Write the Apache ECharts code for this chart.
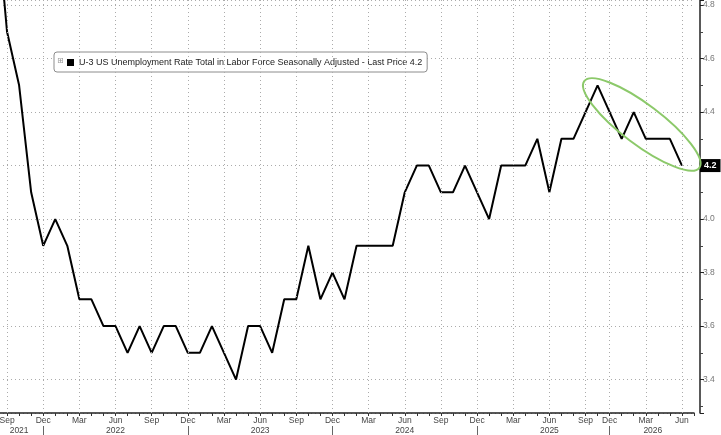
<!DOCTYPE html>
<html>
<head>
<meta charset="utf-8">
<script src="https://cdn.jsdelivr.net/npm/echarts@6/dist/echarts.min.js"></script>
<style>
  html, body { margin: 0; padding: 0; background: #fff; overflow: hidden; width: 721px; height: 435px; }
  #chart { width: 726px; height: 435px; margin-left: -5px; }
</style>
</head>
<body>
<div id="chart"></div>
<script>
// ---- data ----
const seriesName = 'U-3 US Unemployment Rate Total in Labor Force Seasonally Adjusted - Last Price 4.2';
const months = [
  '2021-08','2021-09','2021-10','2021-11','2021-12',
  '2022-01','2022-02','2022-03','2022-04','2022-05','2022-06','2022-07','2022-08','2022-09','2022-10','2022-11','2022-12',
  '2023-01','2023-02','2023-03','2023-04','2023-05','2023-06','2023-07','2023-08','2023-09','2023-10','2023-11','2023-12',
  '2024-01','2024-02','2024-03','2024-04','2024-05','2024-06','2024-07','2024-08','2024-09','2024-10','2024-11','2024-12',
  '2025-01','2025-02','2025-03','2025-04','2025-05','2025-06','2025-07','2025-08','2025-09','2025-11','2025-12',
  '2026-01','2026-02','2026-03','2026-04','2026-05','2026-06','2026-07'
];
const rate = [
  5.2, 4.7, 4.5, 4.1, 3.9,
  4.0, 3.9, 3.7, 3.7, 3.6, 3.6, 3.5, 3.6, 3.5, 3.6, 3.6, 3.5,
  3.5, 3.6, 3.5, 3.4, 3.6, 3.6, 3.5, 3.7, 3.7, 3.9, 3.7, 3.8,
  3.7, 3.9, 3.9, 3.9, 3.9, 4.1, 4.2, 4.2, 4.1, 4.1, 4.2, 4.1,
  4.0, 4.2, 4.2, 4.2, 4.3, 4.1, 4.3, 4.3, 4.4, 4.5, 4.4,
  4.3, 4.4, 4.3, 4.3, 4.3, 4.2, null
];
const lastPrice = 4.2;
const monthAbbr = { '03': 'Mar', '06': 'Jun', '09': 'Sep', '12': 'Dec' };
const yearLabelMonths = ['2021-10', '2022-06', '2023-06', '2024-06', '2025-06', '2026-04'];

const font = 'Liberation Sans, Arial, sans-serif';
const gridDots = { color: '#ababab', type: [1, 3], width: 1 };
const quarterMonths = months.filter(m => !!monthAbbr[m.slice(5)]);

const chart = echarts.init(document.getElementById('chart'), null, { renderer: 'canvas' });

const option = {
  backgroundColor: '#ffffff',
  animation: false,
  grid: { left: 0, right: 27, top: 0, bottom: 22, containLabel: false },
  legend: {
    left: 59, top: 52,
    padding: [6, 5, 5, 13],
    backgroundColor: '#ffffff',
    borderColor: '#8c8c8c',
    borderWidth: 1,
    borderRadius: 3,
    itemWidth: 7, itemHeight: 7,
    icon: 'rect',
    selectedMode: false,
    textStyle: { fontFamily: font, fontSize: 9, color: '#222' },
    data: [seriesName]
  },
  xAxis: [
    {
      type: 'category',
      data: months,
      boundaryGap: false,
      position: 'bottom',
      axisLine: { show: true, lineStyle: { color: '#222', width: 1.5 } },
      axisTick: {
        show: true,
        length: 22,
        interval: (i, v) => v.slice(5) === '12',
        lineStyle: { color: '#666', width: 1 }
      },
      axisLabel: {
        interval: (i, v) => !!monthAbbr[v.slice(5)],
        formatter: v => monthAbbr[v.slice(5)] || '',
        fontFamily: font, fontSize: 8.5, color: '#444',
        margin: 3,
        backgroundColor: '#ffffff',
        padding: [0, 1, 1, 1]
      },
      splitLine: { show: false }
    },
    {
      type: 'category',
      data: months,
      boundaryGap: false,
      position: 'bottom',
      offset: 0,
      axisLine: { show: false },
      axisTick: { show: true, length: 3, interval: 0, lineStyle: { color: '#333', width: 1 } },
      axisLabel: {
        interval: (i, v) => yearLabelMonths.indexOf(v) >= 0,
        formatter: v => v.slice(0, 4) === '2026' ? '{s|' + v.slice(0, 4) + '}' : v.slice(0, 4),
        rich: { s: { fontFamily: font, fontSize: 8.5, color: '#444', padding: [0, 10, 0, 0] } },
        fontFamily: font, fontSize: 8.5, color: '#444',
        margin: 13
      },
      splitLine: { show: false }
    }
  ],
  yAxis: {
    type: 'value',
    position: 'right',
    offset: 6,
    min: 3.275,
    max: 4.819,
    splitNumber: 7,
    axisLine: { show: true, lineStyle: { color: '#222', width: 1.5 } },
    axisTick: { show: true, length: 4, lineStyle: { color: '#222' } },
    minorTick: { show: true, splitNumber: 2, length: 3, lineStyle: { color: '#444' } },
    axisLabel: {
      showMinLabel: false, showMaxLabel: false,
      formatter: v => v.toFixed(1),
      fontFamily: font, fontSize: 8.5, color: '#777', margin: 3
    },
    splitLine: { show: true, lineStyle: gridDots }
  },
  series: [
    {
      name: 'quarterGrid',
      type: 'line',
      data: [],
      z: 1,
      silent: true,
      markLine: {
        silent: true,
        symbol: ['none', 'none'],
        label: { show: false },
        lineStyle: gridDots,
        emphasis: { disabled: true },
        data: quarterMonths.map(m => ({ xAxis: m }))
      }
    },
    {
      name: seriesName,
      type: 'line',
      data: rate,
      xAxisIndex: 0,
      z: 3,
      symbol: 'none',
      clip: true,
      lineStyle: { color: '#000', width: 2 },
      itemStyle: { color: '#000' },
      markLine: {
        silent: true,
        symbol: ['none', 'none'],
        lineStyle: { color: 'rgba(0,0,0,0)', width: 0, opacity: 1 },
        emphasis: { disabled: true },
        label: {
          show: true,
          position: 'end',
          distance: 6,
          formatter: () => lastPrice.toFixed(1),
          backgroundColor: '#000',
          color: '#fff',
          opacity: 1,
          fontFamily: font,
          fontSize: 9,
          fontWeight: 'bold',
          padding: [2, 4, 2, 4]
        },
        data: [{ yAxis: lastPrice }]
      }
    }
  ]
};
chart.setOption(option);

// annotation ellipse anchored on the recent peak and the last value
const p1 = chart.convertToPixel({ xAxisIndex: 0, yAxisIndex: 0 }, ['2025-11', 4.5]);
const p2 = chart.convertToPixel({ xAxisIndex: 0, yAxisIndex: 0 }, ['2026-06', 4.2]);
const cx = (p1[0] + p2[0]) / 2 + 2;
const cy = (p1[1] + p2[1]) / 2 - 1;
chart.setOption({
  graphic: [
    {
      type: 'ellipse',
      x: cx, y: cy,
      rotation: -37 * Math.PI / 180,
      shape: { cx: 0, cy: 0, rx: 72, ry: 20 },
      style: { fill: 'none', stroke: '#8cc96a', lineWidth: 2 },
      z: 20
    },
    {
      type: 'text',
      left: 62, top: 57,
      style: { text: '⊞', fontSize: 8, fill: '#999', fontFamily: 'DejaVu Sans' },
      z: 20
    }
  ]
});
</script>
</body>
</html>
